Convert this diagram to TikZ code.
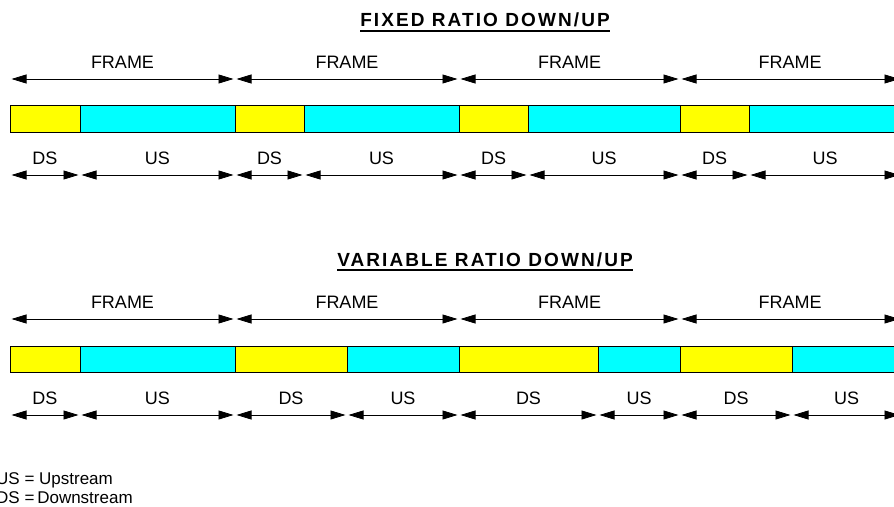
\documentclass[tikz,border=0pt]{standalone}
\usepackage{fontspec}
\setmainfont{Liberation Sans}
\usetikzlibrary{arrows.meta}
\definecolor{dsyellow}{RGB}{255,255,0}
\definecolor{uscyan}{RGB}{0,255,255}
\begin{document}
\begin{tikzpicture}[x=1pt,y=-1pt,
  lbl/.style={font=\fontsize{18}{21}\selectfont, anchor=base, inner sep=0pt},
  leg/.style={font=\fontsize{17}{19}\selectfont, anchor=base west, inner sep=0pt},
  ttl/.style={font=\fontsize{19}{22}\selectfont\bfseries\addfontfeature{LetterSpace=11}, anchor=base, inner sep=0pt},
  dim/.style={{Triangle[length=15pt,width=9pt]}-{Triangle[length=15pt,width=9pt]}, line width=0.8pt, shorten <=1.5pt, shorten >=1.5pt},
  dsbox/.style={fill=dsyellow, draw=black, line width=0.9pt},
  usbox/.style={fill=uscyan, draw=black, line width=0.9pt}]
\useasboundingbox (0,0) rectangle (894,506);

% ---------- titles ----------
\node[ttl] (t1) at (485,27) {FIXED RATIO DOWN/UP};
\draw[line width=1.2pt] ([yshift=-4pt]t1.base west) -- ([yshift=-4pt]t1.base east);
\node[ttl] (t2) at (485,266) {VARIABLE RATIO DOWN/UP};
\draw[line width=1.2pt] ([yshift=-4pt]t2.base west) -- ([yshift=-4pt]t2.base east);

% ---------- frame arrows ----------
\foreach \x [count=\k] in {10,235,459,680,901} {
  \coordinate (tf\k) at (\x,79);
  \coordinate (bf\k) at (\x,319);
}
\foreach \k/\n/\m in {1/2/122.5,2/3/347,3/4/569.5,4/5/790} {
  \draw[dim] (tf\k) -- (tf\n);
  \node[lbl] (tfl\k) at (\m,68) {FRAME};
  \draw[dim] (bf\k) -- (bf\n);
  \node[lbl] (bfl\k) at (\m,308) {FRAME};
}

% ---------- fixed ratio bar ----------
\foreach \x [count=\k] in {10,80,235,304,459,528,680,749,901} {
  \coordinate (ta\k) at (\x,105);
  \coordinate (tb\k) at (\x,132);
  \coordinate (td\k) at (\x,175);
}
\foreach \k/\n/\s/\t/\m in {1/2/dsbox/DS/45,2/3/usbox/US/157.5,3/4/dsbox/DS/269.5,4/5/usbox/US/381.5,
                          5/6/dsbox/DS/493.5,6/7/usbox/US/604,7/8/dsbox/DS/714.5,8/9/usbox/US/825} {
  \draw[\s] (ta\k) rectangle (tb\n);
  \draw[dim] (td\k) -- (td\n);
  \node[lbl] (tl\k) at (\m,164) {\t};
}

% ---------- variable ratio bar ----------
\foreach \x [count=\k] in {10,80,235,347,459,598,680,792,901} {
  \coordinate (ba\k) at (\x,346);
  \coordinate (bb\k) at (\x,372);
  \coordinate (bd\k) at (\x,415);
}
\foreach \k/\n/\s/\t/\m in {1/2/dsbox/DS/45,2/3/usbox/US/157.5,3/4/dsbox/DS/291,4/5/usbox/US/403,
                          5/6/dsbox/DS/528.5,6/7/usbox/US/639,7/8/dsbox/DS/736,8/9/usbox/US/846.5} {
  \draw[\s] (ba\k) rectangle (bb\n);
  \draw[dim] (bd\k) -- (bd\n);
  \node[lbl] (bl\k) at (\m,404) {\t};
}

% ---------- legend ----------
\node[leg] (l1) at (-4,484) {US = Upstream};
\node[leg] (l2) at (-4,503) {DS =\,Downstream};
\end{tikzpicture}
\end{document}
